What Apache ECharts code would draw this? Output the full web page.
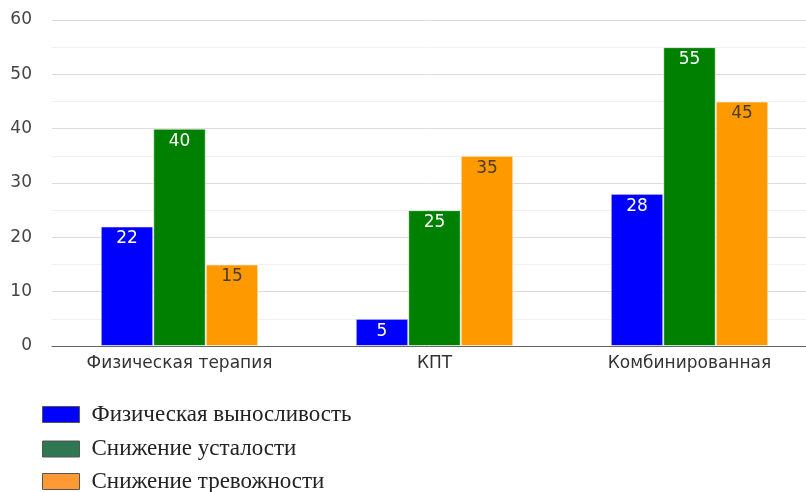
<!DOCTYPE html>
<html>
<head>
<meta charset="utf-8">
<script src="https://cdn.jsdelivr.net/npm/echarts@6/dist/echarts.min.js"></script>
<style>
  html, body { margin: 0; padding: 0; background: #fff; }
  #chart { width: 806px; height: 492px; }
</style>
</head>
<body>
<div id="chart"></div>
<script>
const categories = ['Физическая терапия', 'КПТ', 'Комбинированная'];
const endurance = [22, 5, 28];
const fatigue = [40, 25, 55];
const anxiety = [15, 35, 45];
const seriesNames = ['Физическая выносливость', 'Снижение усталости', 'Снижение тревожности'];
const barColors = ['#0000ff', '#008000', '#ff9900'];
const legendColors = ['#0000ff', '#2e7752', '#ff9933'];
const labelColors = ['#ffffff', '#ffffff', '#4a3c22'];
const legendTops = [402.5, 437, 469.5];

const chart = echarts.init(document.getElementById('chart'));

const makeSeries = (name, data, i) => ({
  name,
  type: 'bar',
  data,
  barWidth: 52.5,
  barGap: '0%',
  itemStyle: {
    color: barColors[i],
    borderColor: 'rgba(255,255,255,0.55)',
    borderWidth: 1
  },
  label: {
    show: true,
    position: 'insideTop',
    distance: 4,
    color: labelColors[i],
    fontFamily: 'DejaVu Sans',
    fontSize: 17
  }
});

// one legend per row, the picture stacks them by hand
const makeLegend = (name, i) => ({
  orient: 'vertical',
  left: 42,
  top: legendTops[i],
  padding: 0,
  itemWidth: 37,
  itemHeight: 16,
  icon: 'rect',
  selectedMode: false,
  data: [{
    name,
    itemStyle: { color: legendColors[i], borderColor: '#555', borderWidth: 1 }
  }],
  textStyle: {
    fontFamily: 'Liberation Serif',
    fontSize: 23,
    lineHeight: 24,
    color: '#222',
    padding: [0, 0, 0, 7]
  }
});

chart.setOption({
  animation: false,
  // plot runs past the right edge in the source picture
  grid: { left: 52, width: 765, top: 20, bottom: 146, outerBoundsMode: 'none', containLabel: false },
  legend: seriesNames.map(makeLegend),
  xAxis: {
    type: 'category',
    data: categories,
    axisTick: { show: false },
    axisLine: { lineStyle: { color: '#666', width: 1 } },
    axisLabel: {
      color: '#333',
      fontFamily: 'DejaVu Sans',
      fontSize: 17,
      margin: 9
    }
  },
  yAxis: {
    type: 'value',
    min: 0,
    max: 60,
    interval: 10,
    axisLine: { show: false },
    axisTick: { show: false },
    axisLabel: {
      color: '#444',
      fontFamily: 'DejaVu Sans',
      fontSize: 17,
      margin: 20
    },
    splitLine: { lineStyle: { color: '#dcdcdc' } },
    minorTick: { show: false, splitNumber: 2 },
    minorSplitLine: { show: true, lineStyle: { color: '#f0f0f0' } }
  },
  series: [
    makeSeries(seriesNames[0], endurance, 0),
    makeSeries(seriesNames[1], fatigue, 1),
    makeSeries(seriesNames[2], anxiety, 2)
  ]
});
</script>
</body>
</html>
